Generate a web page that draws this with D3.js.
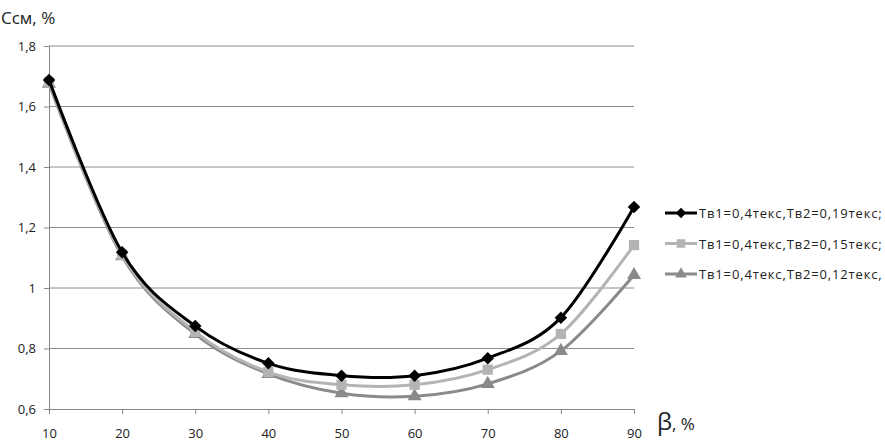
<!doctype html>
<html lang="ru">
<head>
<meta charset="utf-8">
<title>Ссм</title>
<script src="https://d3js.org/d3.v7.min.js"></script>
<style>
  body { margin: 0; background: #fff; }
  svg text { font-family: "Open Sans", "DejaVu Sans", sans-serif; fill: #222; }
</style>
</head>
<body>
<svg id="chart" width="885" height="447"></svg>
<script>
// data
var beta = [10, 20, 30, 40, 50, 60, 70, 80, 90];
var s19 = [1.688, 1.118, 0.874, 0.751, 0.710, 0.710, 0.768, 0.902, 1.268];
var s15 = [1.680, 1.110, 0.855, 0.722, 0.680, 0.680, 0.730, 0.848, 1.142];
var s12 = [1.675, 1.105, 0.848, 0.716, 0.652, 0.642, 0.683, 0.792, 1.043];
var yTicks = [0.6, 0.8, 1, 1.2, 1.4, 1.6, 1.8];
var names = ["Тв1=0,4текс,Тв2=0,19текс;", "Тв1=0,4текс,Тв2=0,15текс;", "Тв1=0,4текс,Тв2=0,12текс,"];

// diamond = square turned 45°
var series = [
  { name: names[0], values: s19, color: "#000000", symbol: d3.symbolSquare, size: 78, rot: 45 },
  { name: names[1], values: s15, color: "#b4b4b4", symbol: d3.symbolSquare, size: 105, rot: 0 },
  { name: names[2], values: s12, color: "#8a8a8a", symbol: d3.symbolTriangle, size: 85, rot: 0 }
];

var svg = d3.select("#chart");
var mLeft = 49, mRight = 634, mTop = 46, mBottom = 409;

var x = d3.scaleLinear().domain([10, 90]).range([mLeft, mRight]);
var y = d3.scaleLinear().domain([0.6, 1.8]).range([mBottom, mTop]);
var fmt = function(d) { return String(d).replace(".", ","); };

// gridlines
svg.append("g").selectAll("line")
  .data(yTicks.slice(1))
  .enter().append("line")
  .attr("x1", mLeft).attr("x2", mRight)
  .attr("y1", function(d) { return y(d); })
  .attr("y2", function(d) { return y(d); })
  .attr("stroke", "#8c8c8c").attr("stroke-width", 1);

// axes
var yAxis = svg.append("g").attr("transform", "translate(" + mLeft + ",0)")
  .call(d3.axisLeft(y).tickValues(yTicks).tickFormat(fmt).tickSize(5).tickPadding(8));
var xAxis = svg.append("g").attr("transform", "translate(0," + mBottom + ")")
  .call(d3.axisBottom(x).tickValues(beta).tickSize(5).tickPadding(15));
[yAxis, xAxis].forEach(function(a) {
  a.select(".domain").attr("stroke", "#868686");
  a.selectAll(".tick line").attr("stroke", "#868686");
  a.selectAll(".tick text").attr("font-size", 13).attr("fill", "#222")
    .attr("font-family", "Open Sans, DejaVu Sans, sans-serif");
});

// lines
var line = d3.line()
  .x(function(d, i) { return x(beta[i]); })
  .y(function(d) { return y(d); })
  .curve(d3.curveCardinal.tension(0));

series.slice().reverse().forEach(function(s) {
  svg.append("path").attr("d", line(s.values))
    .attr("fill", "none").attr("stroke", s.color).attr("stroke-width", 3);
  svg.append("g").selectAll("path")
    .data(s.values)
    .enter().append("path")
    .attr("transform", function(d, i) { return "translate(" + x(beta[i]) + "," + y(d) + ") rotate(" + s.rot + ")"; })
    .attr("d", d3.symbol().type(s.symbol).size(s.size))
    .attr("fill", s.color);
});

// axis titles
svg.append("text").attr("x", 1).attr("y", 24).attr("font-size", 17).text("Ссм, %");
var bt = svg.append("text").attr("x", 657).attr("y", 430);
bt.append("tspan").attr("font-size", 24).text("β");
bt.append("tspan").attr("font-size", 17).text(", %");

// legend
var legend = svg.append("g").attr("transform", "translate(665,213)");
series.forEach(function(s, i) {
  var g = legend.append("g").attr("transform", "translate(0," + (i * 30.5) + ")");
  g.append("line").attr("x1", 0).attr("x2", 32).attr("stroke", s.color).attr("stroke-width", 3);
  g.append("path").attr("transform", "translate(16,0) rotate(" + s.rot + ")")
    .attr("d", d3.symbol().type(s.symbol).size(s.size * 0.7)).attr("fill", s.color);
  g.append("text").attr("x", 34).attr("y", 5).attr("font-size", 13)
    .attr("letter-spacing", 0.85)
    .attr("font-family", "DejaVu Sans, sans-serif").attr("fill", "#333").text(s.name);
});
</script>
</body>
</html>
